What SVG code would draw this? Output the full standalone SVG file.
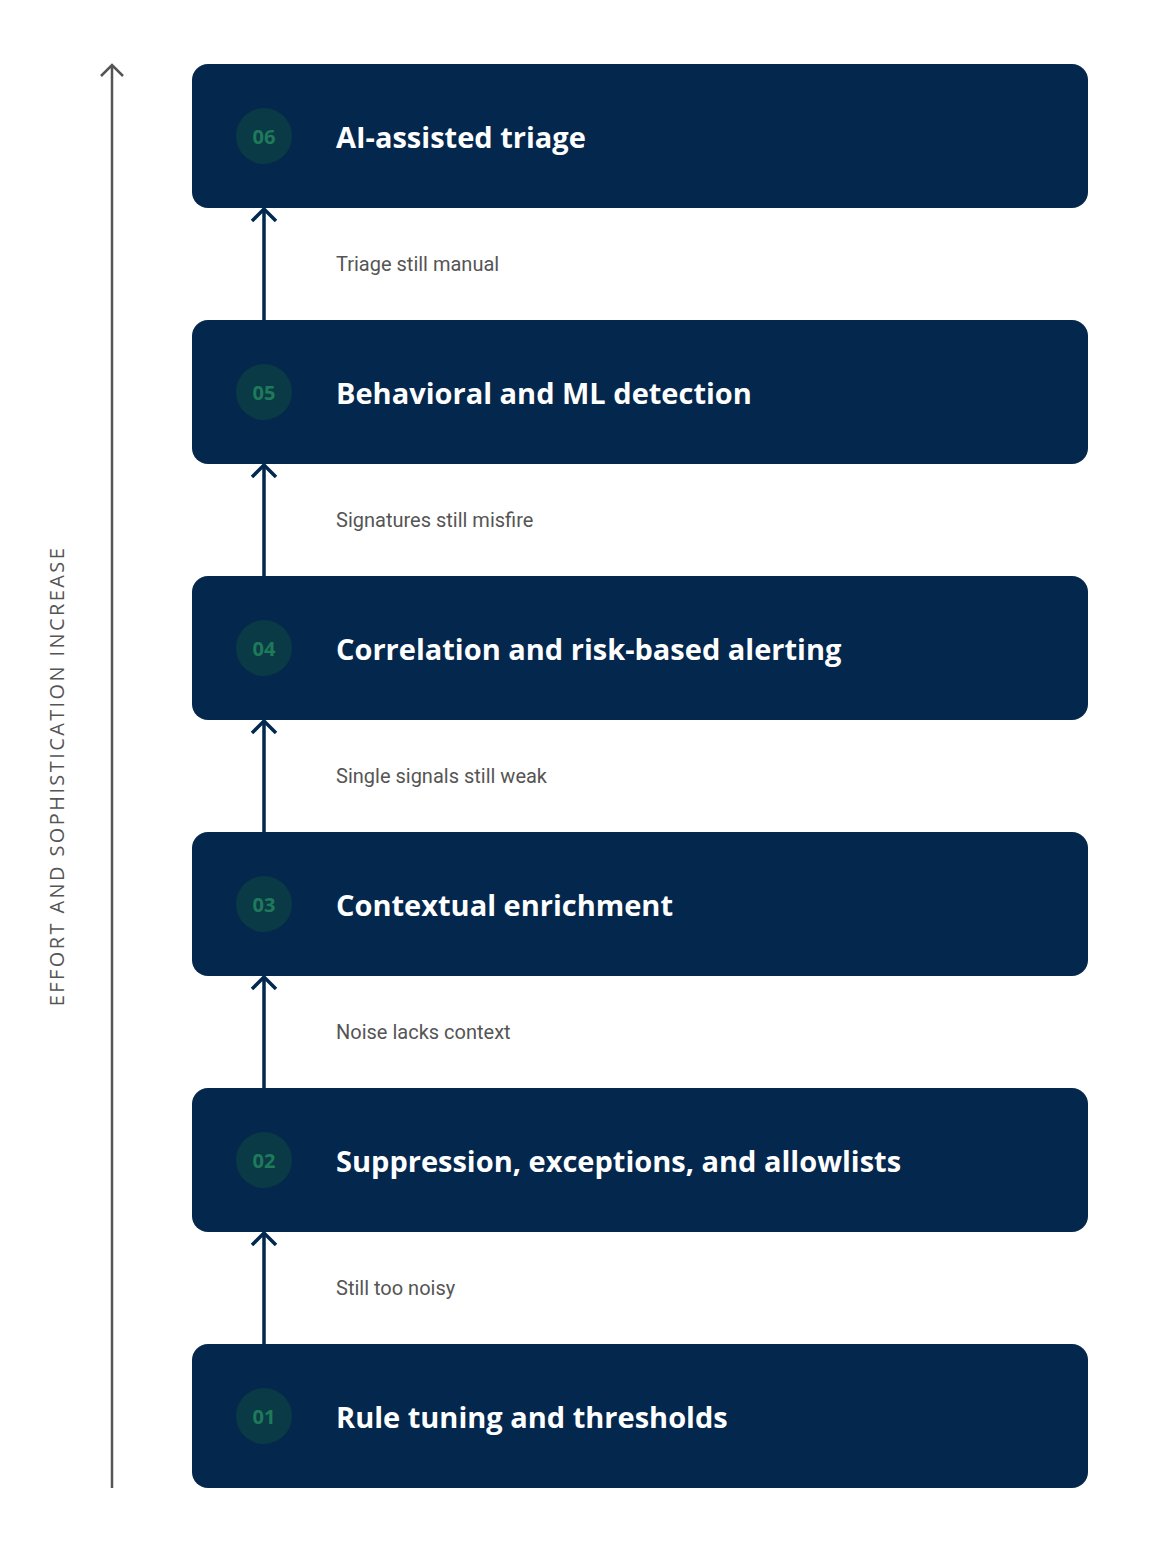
<svg xmlns="http://www.w3.org/2000/svg" width="1152" height="1552" viewBox="0 0 1152 1552">
<style>
.box{fill:#03274d}
.badge{fill:#0b3a47}
.num{font-family:"Open Sans",sans-serif;font-weight:700;font-size:20px;fill:#1f7a5a;text-anchor:middle;dominant-baseline:central}
.title{font-family:"Open Sans",sans-serif;font-weight:700;font-size:29px;fill:#fff;dominant-baseline:central}
.lbl{font-family:Roboto,sans-serif;font-size:20px;fill:#555;dominant-baseline:central}
.conn{stroke:#03274d;stroke-width:3.5;fill:none}
.axis{stroke:#555;stroke-width:2.5;fill:none}
</style>
<rect width="1152" height="1552" fill="#fff"/>
<g id="axis">
<path class="axis" d="M112 1488V66M101 76L112 65L123 76"/>
<text transform="translate(64 776) rotate(-90)" text-anchor="middle" font-family="'Open Sans',sans-serif" font-size="20" letter-spacing="2.4" fill="#555">EFFORT AND SOPHISTICATION INCREASE</text>
</g>
<g id="connectors">
<path class="conn" d="M264 320V211M252 221L264 209L276 221"/>
<path class="conn" d="M264 576V467M252 477L264 465L276 477"/>
<path class="conn" d="M264 832V723M252 733L264 721L276 733"/>
<path class="conn" d="M264 1088V979M252 989L264 977L276 989"/>
<path class="conn" d="M264 1344V1235M252 1245L264 1233L276 1245"/>
<text class="lbl" x="336" y="264">Triage still manual</text>
<text class="lbl" x="336" y="520">Signatures still misfire</text>
<text class="lbl" x="336" y="776">Single signals still weak</text>
<text class="lbl" x="336" y="1032">Noise lacks context</text>
<text class="lbl" x="336" y="1288">Still too noisy</text>
</g>
<g id="n6"><rect class="box" x="192" y="64" width="896" height="144" rx="16"/><circle class="badge" cx="264" cy="136" r="28"/><text class="num" x="264" y="136">06</text><text class="title" x="336" y="136">AI-assisted triage</text></g>
<g id="n5"><rect class="box" x="192" y="320" width="896" height="144" rx="16"/><circle class="badge" cx="264" cy="392" r="28"/><text class="num" x="264" y="392">05</text><text class="title" x="336" y="392">Behavioral and ML detection</text></g>
<g id="n4"><rect class="box" x="192" y="576" width="896" height="144" rx="16"/><circle class="badge" cx="264" cy="648" r="28"/><text class="num" x="264" y="648">04</text><text class="title" x="336" y="648">Correlation and risk-based alerting</text></g>
<g id="n3"><rect class="box" x="192" y="832" width="896" height="144" rx="16"/><circle class="badge" cx="264" cy="904" r="28"/><text class="num" x="264" y="904">03</text><text class="title" x="336" y="904">Contextual enrichment</text></g>
<g id="n2"><rect class="box" x="192" y="1088" width="896" height="144" rx="16"/><circle class="badge" cx="264" cy="1160" r="28"/><text class="num" x="264" y="1160">02</text><text class="title" x="336" y="1160">Suppression, exceptions, and allowlists</text></g>
<g id="n1"><rect class="box" x="192" y="1344" width="896" height="144" rx="16"/><circle class="badge" cx="264" cy="1416" r="28"/><text class="num" x="264" y="1416">01</text><text class="title" x="336" y="1416">Rule tuning and thresholds</text></g>
</svg>
